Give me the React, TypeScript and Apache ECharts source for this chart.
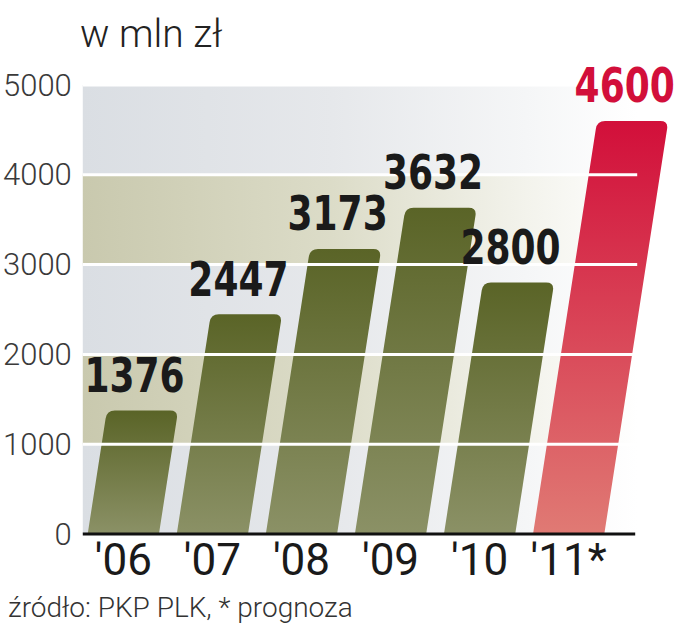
import React, { useEffect, useRef } from "react";
import * as echarts from "echarts";

const categories = ["'06", "'07", "'08", "'09", "'10", "'11*"];
const values = [1376, 2447, 3173, 3632, 2800, 4600];
const isForecast = [false, false, false, false, false, true];
const yTicks = [0, 1000, 2000, 3000, 4000, 5000];
const title = "w mln zł";
const footer = "źródło: PKP PLK, * prognoza";

const SLANT = 0.155;
const RADIUS = 8;

export default function App() {
  const ref = useRef<HTMLDivElement>(null);
  useEffect(() => {
    if (!ref.current) return;
    const chart = echarts.init(ref.current, null, { renderer: "svg" });

    const bandData = yTicks.slice(0, -1).map((lo, i) => [0, lo, yTicks[i + 1], i]);
    const lineData = yTicks.map((t) => [0, t]);
    const barData = values.map((v, i) => [i, v, isForecast[i] ? 1 : 0]);

    const bandRender = (params: any, api: any) => {
      const cs = params.coordSys;
      const lo = api.coord([0, api.value(1)])[1];
      const hi = api.coord([0, api.value(2)])[1];
      const idx = api.value(3);
      const khaki = idx % 2 === 1;
      const x0 = cs.x + 4;
      const x1 = cs.x + cs.width + 24;
      const stops = khaki
        ? [
            { offset: 0, color: "#c9c9ae" },
            { offset: 0.45, color: "#dcdcc8" },
            { offset: 0.8, color: "#f3f3ec" },
            { offset: 1, color: "#ffffff" },
          ]
        : [
            { offset: 0, color: "#dadee3" },
            { offset: 0.45, color: "#e6e8eb" },
            { offset: 0.8, color: "#f5f6f7" },
            { offset: 1, color: "#ffffff" },
          ];
      return {
        type: "rect",
        shape: { x: x0, y: hi, width: x1 - x0, height: lo - hi },
        style: { fill: new echarts.graphic.LinearGradient(0, 0, 1, 0, stops) },
      };
    };

    const lineRender = (params: any, api: any) => {
      const cs = params.coordSys;
      const t = api.value(1);
      const y = api.coord([0, t])[1];
      const x0 = cs.x + 4;
      const x1 = t === 0 ? cs.x + cs.width + 22 : cs.x + cs.width + 24;
      return {
        type: "line",
        shape: { x1: x0, y1: y, x2: x1, y2: y },
        style: { stroke: t === 0 ? "#111111" : "#ffffff", lineWidth: 3 },
      };
    };

    const geom = (api: any) => {
      const i = api.value(0);
      const v = api.value(1);
      const base = api.coord([i, 0]);
      const top = api.coord([i, v]);
      const band = api.size([1, 0])[0];
      const w = band * 0.8;
      const h = base[1] - top[1];
      const dx = SLANT * h;
      return { i, v, base, top, w, dx };
    };

    const barRender = (params: any, api: any) => {
      const { base, top, w, dx } = geom(api);
      const fc = api.value(2) === 1;
      const xl = base[0] - w / 2;
      const yb = base[1];
      const yt = top[1];
      const r = RADIUS;
      const TLx = xl + dx;
      const TRx = xl + w + dx;
      const d =
        `M ${xl} ${yb} L ${xl + w} ${yb} ` +
        `L ${TRx - SLANT * r} ${yt + r} ` +
        `Q ${TRx} ${yt} ${TRx - r} ${yt} ` +
        `L ${TLx + r} ${yt} ` +
        `Q ${TLx} ${yt} ${TLx - SLANT * r} ${yt + r} Z`;
      const fill = fc
        ? new echarts.graphic.LinearGradient(0, 0, 0, 1, [
            { offset: 0, color: "#d20f3a" },
            { offset: 1, color: "#e07a74" },
          ])
        : new echarts.graphic.LinearGradient(0, 0, 0, 1, [
            { offset: 0, color: "#5a6427" },
            { offset: 1, color: "#8b9166" },
          ]);
      return { type: "path", shape: { pathData: d }, style: { fill } };
    };

    const labelRender = (params: any, api: any) => {
      const { v, base, top, dx } = geom(api);
      const fc = api.value(2) === 1;
      return {
        type: "text",
        x: base[0] + dx - 8,
        y: top[1] - 11,
        scaleX: 0.75,
        style: {
          text: String(v),
          x: 0,
          y: 0,
          align: "center",
          verticalAlign: "bottom",
          textAlign: "center",
          textVerticalAlign: "bottom",
          fontSize: 48,
          fontWeight: "bold",
          fontFamily: "'DejaVu Sans', sans-serif",
          fill: fc ? "#d20f3a" : "#1a1a1a",
        },
      };
    };

    chart.setOption({
      animation: false,
      grid: { left: 76.8, right: 63.8, top: 85, bottom: 106, containLabel: false },
      xAxis: {
        type: "category",
        data: categories,
        axisLine: { show: false },
        axisTick: { show: false },
        splitLine: { show: false },
        axisLabel: {
          interval: 0,
          fontSize: 44,
          color: "#1a1a1a",
          fontFamily: "Roboto, 'Noto Sans', sans-serif",
          margin: 4,
        },
      },
      yAxis: {
        type: "value",
        min: 0,
        max: 5000,
        interval: 1000,
        axisLine: { show: false },
        axisTick: { show: false },
        splitLine: { show: false },
        axisLabel: {
          formatter: (val: number) => String(val),
          fontSize: 31,
          fontWeight: 300,
          color: "#3a3a3a",
          fontFamily: "Roboto, 'Noto Sans', sans-serif",
          margin: 7,
        },
      },
      graphic: [
        {
          type: "text",
          left: 80,
          top: 14,
          style: {
            text: title,
            fontSize: 39,
            fontWeight: 300,
            fill: "#222222",
            fontFamily: "Roboto, 'Noto Sans', sans-serif",
          },
        },
        {
          type: "text",
          left: 8,
          top: 593,
          style: {
            text: footer,
            fontSize: 28,
            fontWeight: 300,
            fill: "#333333",
            fontFamily: "Roboto, 'Noto Sans', sans-serif",
          },
        },
      ],
      series: [
        {
          type: "custom",
          z: 1,
          renderItem: bandRender,
          data: bandData,
          encode: { x: 0, y: [1, 2] },
          clip: false,
          silent: true,
        },
        {
          type: "custom",
          z: 2,
          renderItem: barRender,
          data: barData,
          encode: { x: 0, y: 1 },
          clip: false,
        },
        {
          type: "custom",
          z: 3,
          renderItem: lineRender,
          data: lineData,
          encode: { x: 0, y: 1 },
          clip: false,
          silent: true,
        },
        {
          type: "custom",
          z: 4,
          renderItem: labelRender,
          data: barData,
          encode: { x: 0, y: 1 },
          clip: false,
          silent: true,
        },
      ],
    });
    return () => chart.dispose();
  }, []);
  return (
    <div
      ref={ref}
      style={{ position: "absolute", left: 0, top: 0, width: 677, height: 640 }}
    />
  );
}
